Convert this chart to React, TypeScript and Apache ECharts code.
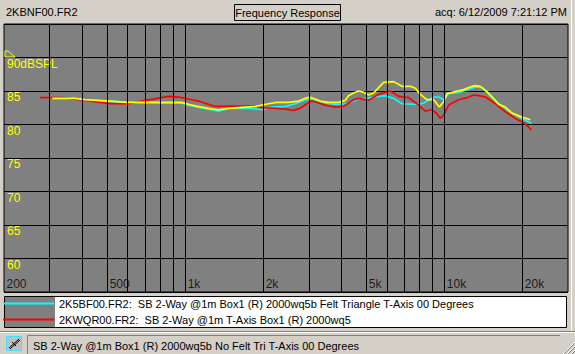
import React, { useEffect, useRef } from "react";
import * as echarts from "echarts";

const FONT = "'Liberation Sans', Arial, sans-serif";

const titleLeft = "2KBNF00.FR2";
const titleCenter = "Frequency Response";
const titleRight = "acq: 6/12/2009 7:21:12 PM";
const statusText = "SB 2-Way @1m Box1 (R) 2000wq5b No Felt Tri T-Axis 00 Degrees";

const cyanName = "2K5BF00.FR2:  SB 2-Way @1m Box1 (R) 2000wq5b Felt Triangle T-Axis 00 Degrees";
const redName = "2KWQR00.FR2:  SB 2-Way @1m T-Axis Box1 (R) 2000wq5";
const yellowName = "2KBNF00.FR2";

const xTickValues = [200, 500, 1000, 2000, 5000, 10000, 20000];
const xTickLabels = ["200", "500", "1k", "2k", "5k", "10k", "20k"];
const xGridValues = [300, 400, 500, 600, 700, 800, 900, 1000, 2000, 3000, 4000, 5000, 6000, 7000, 8000, 9000, 10000, 20000];

const yTickValues = [60, 65, 70, 75, 80, 85, 90];
const yTickLabels = ["60", "65", "70", "75", "80", "85", "90dBSPL"];

const yellowFreq = [307, 374, 409, 456, 513, 595, 970, 1030, 1118, 1230, 1345, 1470, 1864, 2097, 2258, 2505, 2738, 2948, 3082, 3320, 3576, 3907, 4148, 4272, 4466, 4668, 4880, 5103, 5334, 5579, 5832, 6372, 6862, 7392, 7727, 8077, 8566, 9094, 9566, 9938, 10233, 11026, 11871, 12413, 13092, 13772, 14401, 15271, 16208, 17201, 18238, 19935, 21478];
const yellowDb = [83.9, 83.9, 83.7, 83.6, 83.5, 83.3, 83.3, 83.0, 82.7, 82.4, 82.2, 82.4, 82.7, 83.1, 83.3, 83.3, 83.5, 84.0, 84.0, 83.5, 83.3, 83.3, 83.6, 84.3, 84.7, 85.0, 84.8, 84.4, 84.7, 85.5, 86.3, 86.4, 85.7, 85.7, 85.4, 84.5, 83.7, 83.7, 82.6, 83.4, 84.6, 84.9, 85.2, 85.5, 85.8, 85.7, 85.1, 84.1, 83.0, 82.6, 81.7, 81.1, 80.7];

const cyanFreq = [307, 374, 409, 456, 513, 595, 970, 1030, 1118, 1230, 1345, 1470, 1807, 1976, 2160, 2433, 2659, 2907, 3082, 3320, 3576, 3907, 4148, 4399, 4668, 4955, 5416, 5921, 6372, 6862, 7727, 8319, 9094, 9506, 9938, 10389, 11355, 12226, 13173, 13971, 14828, 15739, 16690, 18238, 19935, 21672];
const cyanDb = [83.9, 83.9, 83.7, 83.6, 83.5, 83.3, 83.2, 82.9, 82.6, 82.3, 82.0, 82.4, 82.4, 82.2, 82.6, 82.7, 83.1, 83.7, 83.8, 83.4, 83.1, 83.0, 83.1, 83.4, 83.8, 83.9, 84.1, 84.3, 83.9, 83.1, 83.0, 83.2, 84.1, 84.1, 83.7, 84.6, 84.8, 85.2, 85.6, 85.5, 84.7, 83.6, 82.7, 81.7, 80.9, 80.2];

const redFreq = [276, 334, 374, 409, 434, 467, 510, 604, 660, 700, 755, 808, 862, 942, 1000, 1060, 1125, 1230, 1306, 1864, 1976, 2226, 2433, 2619, 2780, 2948, 3082, 3222, 3472, 3795, 4086, 4272, 4466, 4668, 5103, 5579, 6189, 6664, 7281, 7839, 8445, 8957, 9363, 9651, 9938, 10389, 11355, 12226, 12975, 13565, 14401, 15739, 17201, 18796, 20546, 21672];
const redDb = [84.0, 84.0, 83.8, 83.6, 83.5, 83.3, 83.1, 83.1, 83.4, 83.6, 83.8, 84.0, 84.2, 84.1, 83.9, 83.7, 83.5, 83.0, 82.7, 82.8, 82.5, 82.4, 82.3, 82.1, 82.4, 83.1, 83.5, 83.3, 82.9, 82.6, 82.7, 83.2, 83.7, 83.9, 83.6, 84.5, 85.0, 84.2, 84.0, 83.1, 82.0, 82.2, 81.6, 80.9, 81.4, 82.9, 83.7, 84.0, 84.4, 84.3, 84.1, 83.1, 81.9, 80.9, 80.1, 79.2];

const zip = (f: number[], d: number[]) => f.map((v, i) => [v, d[i]]);

export default function App() {
  const ref = useRef<HTMLDivElement>(null);
  useEffect(() => {
    if (!ref.current) return;
    const chart = echarts.init(ref.current, null, { renderer: "svg", width: 575, height: 354 });
    const curve = (name: string, color: string, data: number[][], z: number) => ({
      type: "line",
      name,
      data,
      showSymbol: false,
      symbol: "none",
      smooth: false,
      z,
      silent: true,
      lineStyle: { color, width: 1.7 },
      itemStyle: { color },
    });
    const text = (t: string, x: number, y: number, align: string, size = 11) => ({
      type: "text",
      z: 50,
      style: { text: t, x, y, fill: "#000", fontSize: size, fontFamily: FONT, align, verticalAlign: "middle" },
    });
    const line = (x1: number, y1: number, x2: number, y2: number, color: string) => ({
      type: "line",
      z: 50,
      shape: { x1, y1, x2, y2 },
      style: { stroke: color, lineWidth: 1 },
    });
    chart.setOption({
      animation: false,
      backgroundColor: "#D4D0C8",
      grid: {
        left: 4,
        top: 24,
        width: 564,
        height: 268,
        show: true,
        backgroundColor: "#808080",
        borderColor: "#000",
        borderWidth: 1,
      },
      xAxis: {
        type: "log",
        logBase: 10,
        min: 200,
        max: 30000,
        axisLine: { show: false },
        axisTick: { show: false },
        axisLabel: { show: false },
        splitLine: { show: false },
      },
      yAxis: {
        type: "value",
        min: 55,
        max: 95,
        interval: 5,
        axisLine: { show: false },
        axisTick: { show: false },
        splitLine: { show: true, lineStyle: { color: "#000", width: 1 } },
        axisLabel: {
          inside: true,
          margin: 3,
          color: "#FFFF00",
          fontSize: 12,
          fontFamily: FONT,
          verticalAlign: "top",
          showMinLabel: false,
          showMaxLabel: false,
          formatter: (v: number) => {
            const i = yTickValues.indexOf(v);
            return i >= 0 ? yTickLabels[i] : "";
          },
        },
      },
      legend: {
        data: [cyanName, redName],
        orient: "vertical",
        left: 3,
        top: 297,
        padding: 0,
        itemGap: 3,
        itemWidth: 51,
        itemHeight: 2,
        icon: "rect",
        selectedMode: false,
        textStyle: { color: "#000", fontSize: 11, fontFamily: FONT, lineHeight: 13 },
      },
      graphic: [
        // legend box
        { type: "rect", z: 0, shape: { x: 4.5, y: 296.5, width: 562, height: 31 }, style: { fill: "#fff", stroke: "#000", lineWidth: 1 } },
        { type: "rect", z: 0, shape: { x: 5, y: 297, width: 50, height: 30 }, style: { fill: "#808080" } },
        // title bar
        text(titleLeft, 6, 12, "left"),
        text(titleCenter, 287.5, 12.5, "center"),
        { type: "rect", z: 50, shape: { x: 234.5, y: 4.5, width: 106, height: 16 }, style: { fill: "none", stroke: "#000", lineWidth: 1 } },
        text(titleRight, 567, 12, "right"),
        // right edge
        line(571.5, 0, 571.5, 331, "#fff"),
        // reference marker
        { type: "polygon", z: 60, shape: { points: [[5, 51], [8, 51], [15, 57], [5, 57]] }, style: { fill: "none", stroke: "#FFFF00", lineWidth: 1 } },
        // status separator
        line(0, 331.5, 575, 331.5, "#808080"),
        line(0, 332.5, 575, 332.5, "#fff"),
        // status icon
        { type: "rect", z: 50, shape: { x: 6.5, y: 336.5, width: 15, height: 14 }, style: { fill: "#C0C0C0", stroke: "#40E0FF", lineWidth: 1 } },
        line(9, 348, 19, 339, "#000"),
        line(10, 349, 20, 340, "#000"),
        line(12, 342, 16, 346, "#000"),
        // status panel
        line(27.5, 335.5, 560, 335.5, "#808080"),
        line(27.5, 335.5, 27.5, 354, "#808080"),
        text(statusText, 33, 346, "left"),
        // grip
        line(563, 354, 575, 342, "#fff"),
        line(564, 354, 575, 343, "#808080"),
        line(567, 354, 575, 346, "#fff"),
        line(568, 354, 575, 347, "#808080"),
        line(571, 354, 575, 350, "#fff"),
        line(572, 354, 575, 351, "#808080"),
      ],
      series: [
        {
          type: "line",
          name: "grid",
          data: [],
          z: 1,
          silent: true,
          markLine: {
            silent: true,
            symbol: ["none", "none"],
            label: { show: false },
            lineStyle: { color: "#000", width: 1, type: "solid" },
            data: xGridValues.map((v) => ({ xAxis: v })),
          },
        },
        {
          type: "scatter",
          name: "xticks",
          z: 5,
          silent: true,
          symbolSize: 1,
          itemStyle: { color: "rgba(0,0,0,0)" },
          data: xTickValues.map((v) => [v, 55]),
          label: {
            show: true,
            position: "right",
            distance: 2,
            offset: [0, -8],
            color: "#000",
            fontSize: 12,
            fontFamily: FONT,
            formatter: (p: any) => xTickLabels[p.dataIndex],
          },
        },
        curve(cyanName, "#00FFFF", zip(cyanFreq, cyanDb), 3),
        curve(redName, "#FF0000", zip(redFreq, redDb), 3),
        curve(yellowName, "#FFFF00", zip(yellowFreq, yellowDb), 3),
      ],
    });
    return () => chart.dispose();
  }, []);
  return <div ref={ref} style={{ position: "fixed", left: 0, top: 0, width: 575, height: 354 }} />;
}
